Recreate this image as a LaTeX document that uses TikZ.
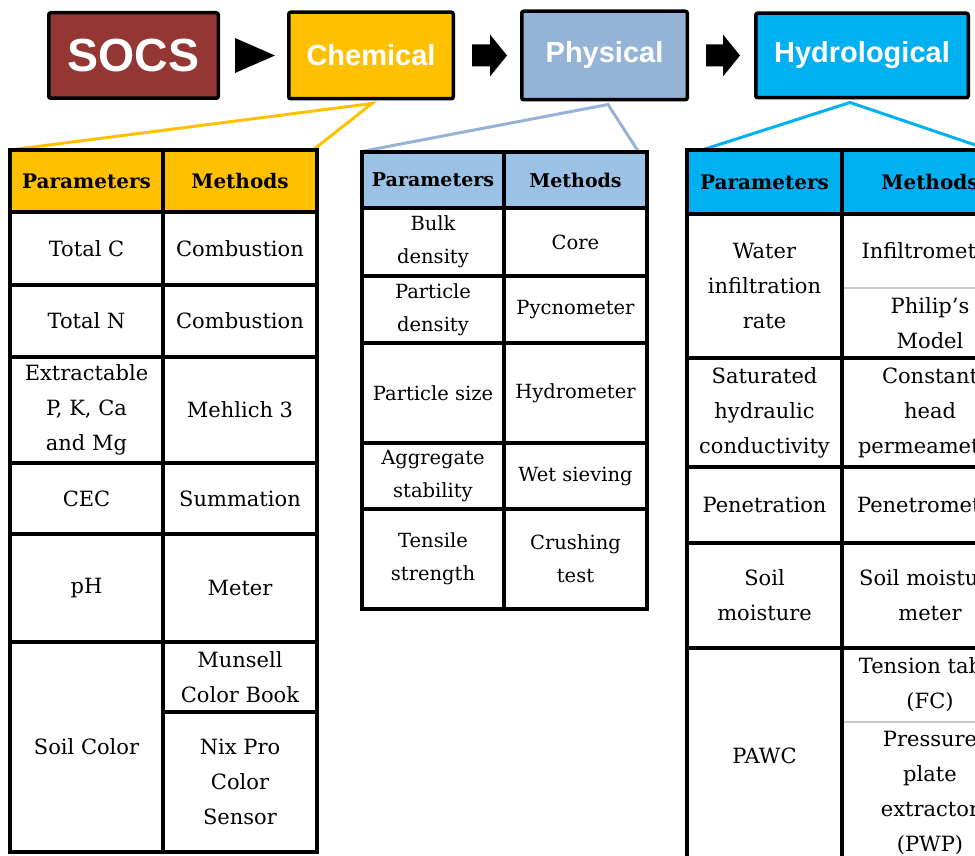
\documentclass[tikz,border=0pt]{standalone}
\usepackage{fontspec}
\setmainfont{DejaVu Serif}
\setsansfont{Liberation Sans}
\usetikzlibrary{positioning}
\definecolor{socsred}{RGB}{148,54,52}
\definecolor{chemyellow}{RGB}{255,192,0}
\definecolor{physblue}{RGB}{149,179,215}
\definecolor{physhead}{RGB}{155,194,230}
\definecolor{hydroblue}{RGB}{0,176,240}
\definecolor{splitgray}{RGB}{200,200,200}

\tikzset{
  topbox/.style={draw=black,line width=3.5pt,rounded corners=2pt,inner sep=0pt,text=white,font=\sffamily\bfseries\fontsize{29pt}{29pt}\selectfont},
  tabline/.style={line width=3.5pt},
  link/.style={line width=3pt},
  cell/.style={inner sep=0pt,align=center,font=\fontsize{21pt}{35pt}\selectfont},
  pcell/.style={inner sep=0pt,align=center,font=\fontsize{19.5pt}{33pt}\selectfont},
  headcell/.style={inner sep=0pt,font=\bfseries\fontsize{20pt}{22pt}\selectfont},
}

\begin{document}
\begin{tikzpicture}[x=1pt,y=-1pt]
  \useasboundingbox (0,0) rectangle (975,856);
  \clip (0,0) rectangle (975,856);
  % top row
  \node[topbox,fill=socsred,minimum width=169.5pt,minimum height=85.5pt,font=\sffamily\bfseries\fontsize{46.5pt}{46.5pt}\selectfont] (socs) at (133.5,55.5) {SOCS};
  \node[topbox,fill=chemyellow,minimum width=164.5pt,minimum height=86.5pt,right=67pt of socs] (chem) {Chemical};
  \node[topbox,fill=physblue,minimum width=165.5pt,minimum height=88.5pt,right=65pt of chem] (phys) {Physical};
  \node[topbox,fill=hydroblue,minimum width=212.5pt,minimum height=84.5pt,right=65pt of phys] (hydro) {Hydrological};
  \fill (socs.east) ++(15,-17.5)--++(40,17.5)--++(-40,17.5)--cycle;
  \fill (chem.east) ++(17,-11)--++(18,0)--++(0,-10)--++(17,21)--++(-17,21)--++(0,-10)--++(-18,0)--cycle;
  \fill (phys.east) ++(17,-11)--++(17,0)--++(0,-10)--++(17,21)--++(-17,21)--++(0,-10)--++(-17,0)--cycle;
  %links
  \coordinate (chemA) at (10,150);
  \coordinate (chemB) at (313,150);
  \coordinate (physA) at (364,151);
  \coordinate (physB) at (638,151);
  \coordinate (hydroA) at (702,150);
  \coordinate (hydroB) at (990,150);
  \draw[link,chemyellow] (chemA)--([xshift=1pt,yshift=-3pt]chem.south)--(chemB);
  \draw[link,physblue] (physA)--([xshift=3.5pt,yshift=-3pt]phys.south)--(physB);
  \draw[link,hydroblue] (hydroA)--([xshift=-12pt,yshift=-3pt]hydro.south)--(hydroB);
  % chemical table
  \def\chL{10} \def\chM{163} \def\chR{317}
  \fill[chemyellow] (\chL,150) rectangle (\chR,212);
  \draw[tabline] (\chL,150) rectangle (\chR,852);
  \draw[tabline] (\chM,150)--(\chM,852);
  \draw[tabline] (\chL,212)--(\chR,212);
  \draw[tabline] (\chL,285)--(\chR,285);
  \draw[tabline] (\chL,357)--(\chR,357);
  \draw[tabline] (\chL,463)--(\chR,463);
  \draw[tabline] (\chL,534)--(\chR,534);
  \draw[tabline] (\chL,642)--(\chR,642);
  \draw[tabline] (\chM,712)--(\chR,712);
  \node[headcell] (chemPar) at (86.5,181) {Parameters};
  \node[headcell] (chemMet) at (240,181) {Methods};
  \node[cell] (totC) at (86.5,248.5) {Total C};
  \node[cell] (totCm) at (240,248.5) {Combustion};
  \node[cell] (totN) at (86.5,321) {Total N};
  \node[cell] (totNm) at (240,321) {Combustion};
  \node[cell] (extr) at (86.5,410) {Extractable\\P, K, Ca\\and Mg};
  \node[cell] (extrm) at (240,410) {Mehlich 3};
  \node[cell] (cec) at (86.5,498.5) {CEC};
  \node[cell] (cecm) at (240,498.5) {Summation};
  \node[cell] (ph) at (86.5,588) {pH};
  \node[cell] (phm) at (240,588) {Meter};
  \node[cell] (color) at (86.5,747) {Soil Color};
  \node[cell] (munsell) at (240,677) {Munsell\\Color Book};
  \node[cell] (nix) at (240,782) {Nix Pro\\Color\\Sensor};
  % physical table
  \def\phL{362} \def\phM{504} \def\phR{647}
  \fill[physhead] (\phL,152) rectangle (\phR,208);
  \draw[tabline] (\phL,152) rectangle (\phR,609);
  \draw[tabline] (\phM,152)--(\phM,609);
  \draw[tabline] (\phL,208)--(\phR,208);
  \draw[tabline] (\phL,276)--(\phR,276);
  \draw[tabline] (\phL,343)--(\phR,343);
  \draw[tabline] (\phL,443)--(\phR,443);
  \draw[tabline] (\phL,509)--(\phR,509);
  \node[headcell,font=\bfseries\fontsize{19pt}{20pt}\selectfont] (physPar) at (433,180) {Parameters};
  \node[headcell,font=\bfseries\fontsize{19pt}{20pt}\selectfont] (physMet) at (575.5,180) {Methods};
  \node[pcell] (bulk) at (433,242) {Bulk\\density};
  \node[pcell] (bulkm) at (575.5,242) {Core};
  \node[pcell] (pden) at (433,309.5) {Particle\\density};
  \node[pcell] (pdenm) at (575.5,309.5) {Pycnometer};
  \node[pcell] (psize) at (433,393) {Particle size};
  \node[pcell] (psizem) at (575.5,393) {Hydrometer};
  \node[pcell] (aggr) at (433,476) {Aggregate\\stability};
  \node[pcell] (aggrm) at (575.5,476) {Wet sieving};
  \node[pcell] (tens) at (433,559) {Tensile\\strength};
  \node[pcell] (tensm) at (575.5,559) {Crushing\\test};
  % hydrological table
  \def\hyL{687} \def\hyM{842} \def\hyR{1018}
  \fill[hydroblue] (\hyL,150) rectangle (\hyR,214);
  \draw[tabline] (\hyL,150) rectangle (\hyR,864);
  \draw[tabline] (\hyM,150)--(\hyM,864);
  \draw[tabline] (\hyL,214)--(\hyR,214);
  \draw[tabline] (\hyL,358)--(\hyR,358);
  \draw[tabline] (\hyL,467)--(\hyR,467);
  \draw[tabline] (\hyL,543)--(\hyR,543);
  \draw[tabline] (\hyL,648)--(\hyR,648);
  \draw[splitgray,line width=2pt] (\hyM+2,288)--(\hyR,288);
  \draw[splitgray,line width=2pt] (\hyM+2,722)--(\hyR,722);
  \node[headcell] (hydroPar) at (764.5,182) {Parameters};
  \node[headcell] (hydroMet) at (930,182) {Methods};
  \node[cell] (infil) at (764.5,286) {Water\\infiltration\\rate};
  \node[cell] (infilm) at (930,251) {Infiltrometer};
  \node[cell] (philip) at (930,323) {Philip’s\\Model};
  \node[cell] (ksat) at (764.5,412.5) {Saturated\\hydraulic\\conductivity};
  \node[cell] (ksatm) at (930,412.5) {Constant\\head\\permeameter};
  \node[cell] (pen) at (764.5,505) {Penetration};
  \node[cell] (penm) at (930,505) {Penetrometer};
  \node[cell] (moist) at (764.5,595.5) {Soil\\moisture};
  \node[cell] (moistm) at (930,595.5) {Soil moisture\\meter};
  \node[cell] (pawc) at (764.5,756) {PAWC};
  \node[cell] (fc) at (930,685) {Tension table\\(FC)};
  \node[cell] (pwp) at (930,793) {Pressure\\plate\\extractor\\(PWP)};
\end{tikzpicture}
\end{document}
